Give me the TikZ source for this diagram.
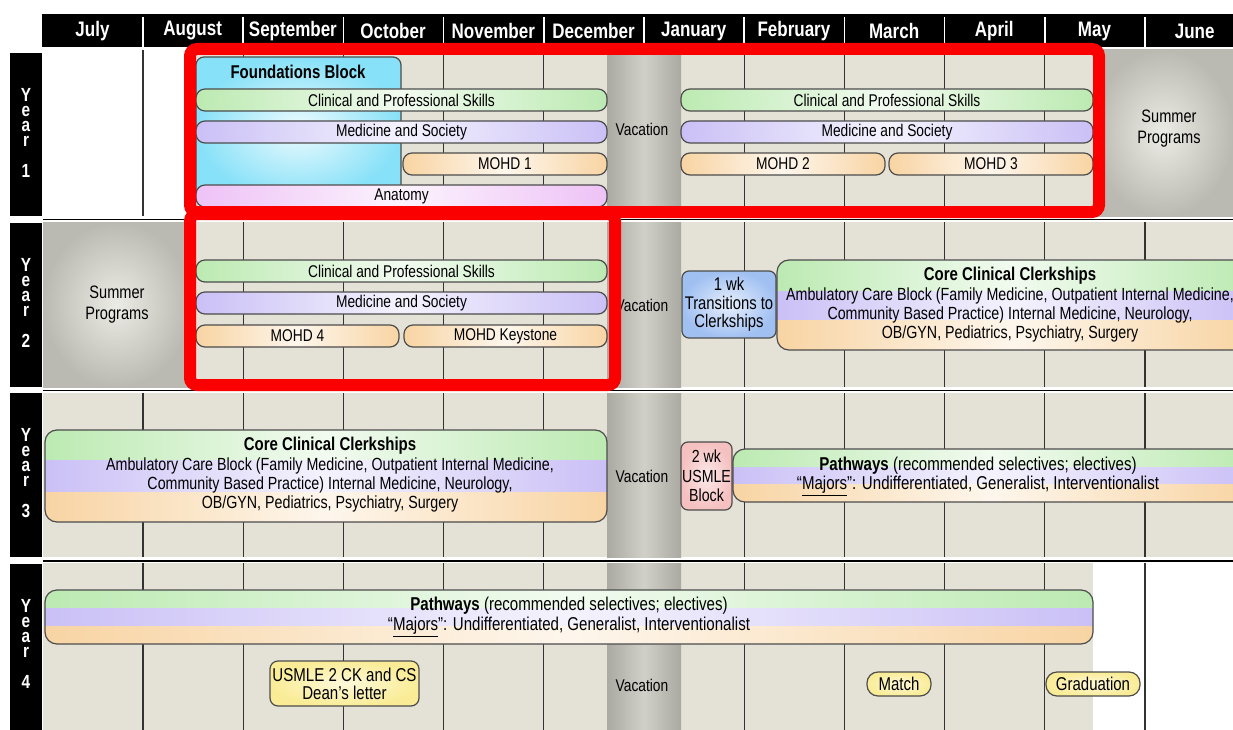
\documentclass[tikz,border=0pt]{standalone}
\usepackage{fontspec}
\setmainfont{Liberation Sans}[FakeStretch=0.81]

\definecolor{beige}{RGB}{228,225,215}
\definecolor{vacgray}{RGB}{170,170,163}
\definecolor{vaclight}{RGB}{208,208,201}
\definecolor{sumgray}{RGB}{186,186,178}
\definecolor{sumlight}{RGB}{236,236,230}
\definecolor{cpsgreen}{RGB}{188,234,178}
\definecolor{maspurple}{RGB}{202,192,246}
\definecolor{mohdorange}{RGB}{248,212,163}
\definecolor{anatpink}{RGB}{238,194,246}
\definecolor{foundcyan}{RGB}{135,225,248}
\definecolor{transblue}{RGB}{160,192,242}
\definecolor{usmlepink}{RGB}{245,192,192}
\definecolor{evtyellow}{RGB}{250,236,150}
\definecolor{boxred}{RGB}{250,0,0}

\tikzset{
  gridline/.style={draw=black!80, line width=1.2pt},
  bar/.style={draw=black!70, line width=1.2pt, rounded corners=9pt},
  shadebar/.style={left color=#1, right color=#1, middle color=#1!20},
  txt/.style={inner sep=0pt, font=\fontsize{17}{19.4}\selectfont},
  bigtxt/.style={inner sep=0pt, font=\fontsize{17.6}{19.4}\selectfont},
  head/.style={inner sep=0pt, font=\fontsize{18.5}{20}\selectfont\bfseries},
  month/.style={text=white, inner sep=0pt, font=\fontsize{21}{22}\selectfont\bfseries},
  yearlbl/.style={text=white, anchor=north, align=center, inner sep=0pt, font=\fontsize{19}{15}\selectfont\bfseries},
  vac/.style={left color=vacgray, right color=vacgray, middle color=vaclight},
  summer/.style={inner color=sumlight, outer color=sumgray},
  redbox/.style={draw=boxred, line width=12pt, rounded corners=7pt}
}

% three coloured bands in one rounded box: x1,y1,x2,y2,split1,split2
\newcommand{\stripebox}[6]{%
  \begin{scope}
    \clip[rounded corners=12pt] (#1,#2) rectangle (#3,#4);
    \shade[shadebar=cpsgreen] (#1,#2) rectangle (#3,#5);
    \shade[shadebar=maspurple] (#1,#5) rectangle (#3,#6);
    \shade[shadebar=mohdorange] (#1,#6) rectangle (#3,#4);
  \end{scope}
  \draw[bar, rounded corners=12pt] (#1,#2) rectangle (#3,#4);}

\begin{document}
\begin{tikzpicture}[x=1pt,y=-1pt]
  \useasboundingbox (0,0) rectangle (1233,730);
  \fill[white] (0,0) rectangle (1233,730);
  \begin{scope}
  \clip (0,0) rectangle (1233,730);

  % month header
  \fill[black] (42,14) rectangle (1233,47);
  \foreach \m [count=\i from 0] in {July,August,September,October,November,December,January,February,March,April,May,June}
    \node[month] (m\i) at ({92.5+100.2*\i},31) {\m};
  \foreach \k in {0,...,10}
    \draw[white, line width=1.5pt] ({143+100.2*\k},17) -- ({143+100.2*\k},47);

  % year tabs
  \foreach \yr/\top/\bot in {1/53/216,2/223/387,3/393/557,4/564/730} {
    \fill[black] (10,\top) rectangle (42,\bot);
    \node[yearlbl] (year\yr) at (26,\top+35.5) {Y\\e\\a\\r\\[16pt]\yr};
  }

  % backgrounds
  \fill[beige] (186,50) rectangle (1093,216);
  \fill[beige] (43,222) rectangle (1233,387);
  \fill[beige] (43,393) rectangle (1233,557);
  \fill[beige] (43,563) rectangle (1093,730);
  \foreach \k in {0,...,10}
    \foreach \t/\b in {50/216,222/387,393/557,563/730}
      \draw[gridline] ({143+100.2*\k},\t) -- ({143+100.2*\k},\b);

  % vacation and summer
  \foreach \t/\b in {50/216,222/387,393/557,563/730}
    \shade[vac] (607,\t) rectangle (681,\b);
  \node[txt] (vac1) at (642,129) {Vacation};
  \node[txt] (vac2) at (642,305) {Vacation};
  \node[txt] (vac3) at (642,476) {Vacation};
  \node[txt] (vac4) at (642,685) {Vacation};
  \shade[summer] (1093,50) rectangle (1233,216);
  \shade[summer] (43,222) rectangle (190,387);
  \node[txt, align=center, font=\fontsize{18}{21}\selectfont] (sum1) at (1169,129) {Summer\\Programs};
  \node[txt, align=center, font=\fontsize{18}{21}\selectfont] (sum2) at (117,305) {Summer\\Programs};

  % year separators
  \foreach \s in {219.5,390.5,561}
    \draw[black, line width=1.5pt] (43,\s) -- (1233,\s);

  % year 1
  \shade[bar, rounded corners=8pt, inner color=foundcyan!15, outer color=foundcyan] (196,57) rectangle (401,200);
  \node[head] (found) at (298,72) {Foundations Block};
  \shade[bar, shadebar=cpsgreen] (196,89) rectangle node[txt] (cps1) {Clinical and Professional Skills} (607,111);
  \shade[bar, shadebar=maspurple] (196,121) rectangle node[txt] (mas1) {Medicine and Society} (607,143);
  \shade[bar, shadebar=mohdorange] (403,153) rectangle node[txt] (mohd1) {MOHD 1} (607,175);
  \shade[bar, shadebar=anatpink] (196,185) rectangle node[txt] (anat) {Anatomy} (607,207);
  \shade[bar, shadebar=cpsgreen] (681,89) rectangle node[txt] (cps1b) {Clinical and Professional Skills} (1093,111);
  \shade[bar, shadebar=maspurple] (681,121) rectangle node[txt] (mas1b) {Medicine and Society} (1093,143);
  \shade[bar, shadebar=mohdorange] (681,153) rectangle node[txt] (mohd2) {MOHD 2} (885,175);
  \shade[bar, shadebar=mohdorange] (889,153) rectangle node[txt] (mohd3) {MOHD 3} (1093,175);

  % year 2
  \shade[bar, shadebar=cpsgreen] (196,260) rectangle node[txt] (cps2) {Clinical and Professional Skills} (607,282);
  \shade[bar, shadebar=maspurple] (196,292) rectangle node[txt] (mas2) {Medicine and Society} (607,314);
  \shade[bar, shadebar=mohdorange] (196,325) rectangle node[txt] (mohd4) {MOHD 4} (399,347);
  \shade[bar, shadebar=mohdorange] (404,325) rectangle node[txt] (mohdk) {MOHD Keystone} (607,347);
  \shade[bar, rounded corners=7pt, inner color=transblue!25, outer color=transblue] (682,271) rectangle
    node[txt, align=center, font=\fontsize{18.3}{18.6}\selectfont] (trans) {1 wk\\Transitions to\\Clerkships} (776,338);
  \stripebox{777}{260}{1250}{350}{291}{320}
  \node[bigtxt, align=center] (core2) at (1010,305) {{\fontsize{18.5}{19.4}\selectfont\bfseries Core Clinical Clerkships}\\
    Ambulatory Care Block (Family Medicine, Outpatient Internal Medicine,\\
    Community Based Practice) Internal Medicine, Neurology,\\
    OB/GYN, Pediatrics, Psychiatry, Surgery};

  % year 3
  \stripebox{45}{430}{607}{522}{460}{492}
  \node[bigtxt, align=center] (core3) at (330,475) {{\fontsize{18.5}{19.4}\selectfont\bfseries Core Clinical Clerkships}\\
    Ambulatory Care Block (Family Medicine, Outpatient Internal Medicine,\\
    Community Based Practice) Internal Medicine, Neurology,\\
    OB/GYN, Pediatrics, Psychiatry, Surgery};
  \shade[bar, rounded corners=7pt, inner color=usmlepink!35, outer color=usmlepink] (681,442) rectangle
    node[txt, align=center, font=\fontsize{17.5}{19.5}\selectfont] (usmle1) {2 wk\\USMLE\\Block} (732,510);
  \stripebox{733}{449}{1250}{502}{467}{484}
  \node[txt, align=center, font=\fontsize{18.6}{19.4}\selectfont] (path3) at (978,476) {{\bfseries Pathways} (recommended selectives; electives)\\
    “\underline{Majors}”: Undifferentiated, Generalist, Interventionalist};

  % year 4
  \stripebox{45}{590}{1093}{644}{608}{626}
  \node[txt, align=center, font=\fontsize{18.6}{19.8}\selectfont] (path4) at (569,617) {{\bfseries Pathways} (recommended selectives; electives)\\
    “\underline{Majors}”: Undifferentiated, Generalist, Interventionalist};
  \shade[bar, rounded corners=8pt, inner color=evtyellow!35, outer color=evtyellow] (270,661) rectangle
    node[txt, align=center, font=\fontsize{18.6}{18}\selectfont] (usmle2) {USMLE 2 CK and CS\\Dean’s letter} (419,706);
  \shade[bar, rounded corners=11pt, inner color=evtyellow!35, outer color=evtyellow] (867,672) rectangle
    node[txt, font=\fontsize{18.5}{20}\selectfont] (match) {Match} (931,696);
  \shade[bar, rounded corners=11pt, inner color=evtyellow!35, outer color=evtyellow] (1046,672) rectangle
    node[txt, font=\fontsize{18.5}{20}\selectfont] (grad) {Graduation} (1140,696);

  % highlight frames
  \draw[redbox] (190,49) rectangle (1099,212);
  \draw[redbox] (190,214) rectangle (615,385);
  \end{scope}
\end{tikzpicture}
\end{document}
